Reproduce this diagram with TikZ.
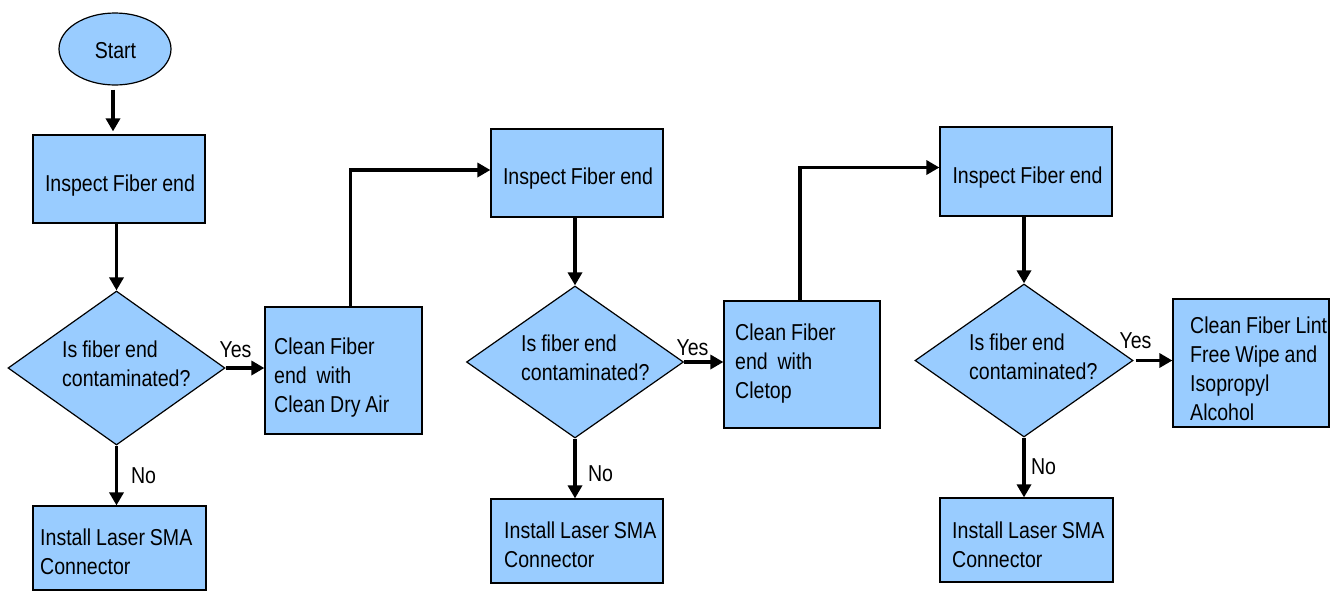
\documentclass[tikz,border=0pt]{standalone}
\usepackage{fontspec}
\setmainfont{Liberation Sans}[FakeStretch=0.85,WordSpace=0.9]
\usetikzlibrary{arrows.meta,shapes.geometric,calc}
\definecolor{boxblue}{RGB}{153,204,255}
\begin{document}
\begin{tikzpicture}[x=1pt,y=-1pt,
  every node/.style={font=\fontsize{23}{29}\selectfont},
  proc/.style={draw=black, line width=1.2pt, fill=boxblue, rectangle, inner sep=0pt},
  dec/.style={draw=black, line width=1.2pt, fill=boxblue, diamond, inner sep=0pt},
  txt/.style={anchor=base west, inner sep=0pt, text width=200pt, align=flush left},
  ctxt/.style={anchor=base, inner sep=0pt},
  arr/.style={line width=3.5pt, -{Triangle[length=13pt,width=14pt]}},
  lab/.style={anchor=base, inner sep=0pt}]
\clip (0,0) rectangle (1344,590);
\fill[white] (0,0) rectangle (1344,590);
% column 1
\node[draw=black, line width=1.2pt, fill=boxblue, ellipse, minimum width=112pt, minimum height=72pt, inner sep=0pt] (start) at (115,49) {};
\node[ctxt] (startt) at (115.5,58) {Start};
\node[proc, minimum width=172pt, minimum height=88pt] (i1) at (119,179) {};
\node[ctxt] (i1t) at (120,191) {Inspect Fiber end};
\node[dec, minimum width=217pt, minimum height=154pt] (d1) at (116.5,368) {};
\node[txt] (d1t) at (62,357) {Is fiber end\\contaminated?};
\node[proc, minimum width=157pt, minimum height=127pt] (c1) at (343.5,370.5) {};
\node[txt] (c1t) at (274,354) {Clean Fiber\\end\ \ with\\Clean Dry Air};
\node[proc, minimum width=173pt, minimum height=84pt] (s1) at (119.5,548) {};
\node[txt] (s1t) at (40,545) {Install Laser SMA\\Connector};
% column 2
\node[proc, minimum width=172pt, minimum height=88pt] (i2) at (577,173) {};
\node[ctxt] (i2t) at (578,184) {Inspect Fiber end};
\node[dec, minimum width=217pt, minimum height=152pt] (d2) at (575,362) {};
\node[txt] (d2t) at (521,351) {Is fiber end\\contaminated?};
\node[proc, minimum width=156pt, minimum height=127pt] (c2) at (802,364.5) {};
\node[txt] (c2t) at (735,340) {Clean Fiber\\end\ \ with\\Cletop};
\node[proc, minimum width=172pt, minimum height=84pt] (s2) at (577,541) {};
\node[txt] (s2t) at (504,538) {Install Laser SMA\\Connector};
% column 3
\node[proc, minimum width=172pt, minimum height=89pt] (i3) at (1026,171.5) {};
\node[ctxt] (i3t) at (1027.5,183) {Inspect Fiber end};
\node[dec, minimum width=218pt, minimum height=153pt] (d3) at (1024,360.5) {};
\node[txt] (d3t) at (969,350) {Is fiber end\\contaminated?};
\node[proc, minimum width=156pt, minimum height=128pt] (c3) at (1251,363) {};
\node[txt] (c3t) at (1190,333) {Clean Fiber Lint\\Free Wipe and\\Isopropyl\\Alcohol};
\node[proc, minimum width=173pt, minimum height=84pt] (s3) at (1026.5,540) {};
\node[txt] (s3t) at (952,538) {Install Laser SMA\\Connector};
% connectors
\draw[arr, shorten <=4pt, shorten >=3pt] ([xshift=-2pt]start.south) -- ([xshift=-2pt]start.south |- i1.north);
\draw[arr] (i1.south -| d1.north) -- (d1.north);
\draw[arr] (d1.east) -- (d1.east -| c1.west);
\draw[arr] (d1.south) -- (d1.south |- s1.north);
\draw[arr] ([xshift=7pt]c1.north) |- ([yshift=3pt]i2.west);
\draw[arr] (i2.south -| d2.north) -- (d2.north);
\draw[arr] (d2.east) -- (d2.east -| c2.west);
\draw[arr] (d2.south) -- (d2.south |- s2.north);
\draw[arr] ([xshift=-2pt]c2.north) |- ([yshift=4pt]i3.west);
\draw[arr] (i3.south -| d3.north) -- (d3.north);
\draw[arr, shorten <=2pt] (d3.east) -- (d3.east -| c3.west);
\draw[arr] (d3.south) -- (d3.south |- s3.north);
% labels
\node[lab] (y1) at (235.5,357) {Yes};
\node[lab] (n1) at (143.5,483) {No};
\node[lab] (y2) at (692.5,355) {Yes};
\node[lab] (n2) at (600.5,481) {No};
\node[lab] (y3) at (1135.5,348) {Yes};
\node[lab] (n3) at (1043.5,474) {No};
\end{tikzpicture}
\end{document}
